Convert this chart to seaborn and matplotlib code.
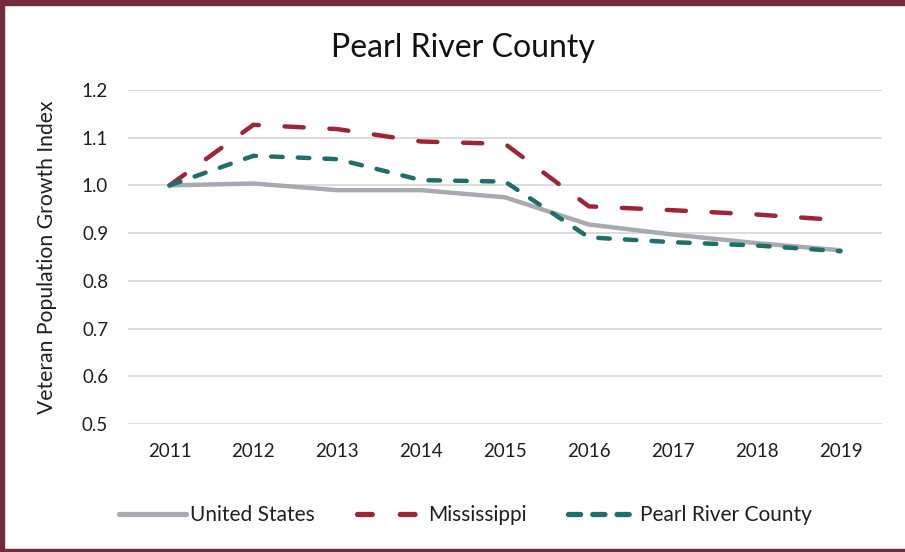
import matplotlib
matplotlib.use("Agg")
import matplotlib.pyplot as plt
import pandas as pd
import seaborn as sns
from matplotlib.patches import Rectangle

years = [2011, 2012, 2013, 2014, 2015, 2016, 2017, 2018, 2019]
united_states = [1.000, 1.004, 0.990, 0.990, 0.975, 0.918, 0.897, 0.879, 0.864]
mississippi = [1.000, 1.127, 1.118, 1.092, 1.087, 0.956, 0.948, 0.939, 0.927]
pearl_river = [1.000, 1.062, 1.055, 1.011, 1.008, 0.891, 0.881, 0.874, 0.862]
series_names = ["United States", "Mississippi", "Pearl River County"]
y_ticks = [0.5, 0.6, 0.7, 0.8, 0.9, 1.0, 1.1, 1.2]

df = pd.DataFrame({
    "year": years * 3,
    "value": united_states + mississippi + pearl_river,
    "series": [s for s in series_names for _ in years],
})

sns.set_theme(style="white")
plt.rcParams["font.family"] = ["Lato", "DejaVu Sans"]

palette = {"United States": "#A7AAB1", "Mississippi": "#9C2638",
           "Pearl River County": "#1E6E6A"}
dashes = {"United States": "", "Mississippi": (4.3, 5.8),
          "Pearl River County": (2.6, 3.4)}
legend_dashes = {"Mississippi": (2.8, 5.3), "Pearl River County": (2.3, 2.3)}

fig = plt.figure(figsize=(9.05, 5.52), dpi=100)
ax = fig.add_axes([0.141, 0.232, 0.834, 0.605])
sns.lineplot(data=df, x="year", y="value", hue="series", style="series",
             palette=palette, dashes=dashes, linewidth=3.2, ax=ax,
             hue_order=series_names, style_order=series_names)
for ln in ax.get_lines():
    ln.set_dash_capstyle("round")
    ln.set_solid_capstyle("round")

ax.set_xlim(2010.5, 2019.5)
ax.set_ylim(0.5, 1.2)
ax.set_xticks(years)
ax.set_yticks(y_ticks)
ax.set_yticklabels([f"{v:.1f}" for v in y_ticks])
ax.grid(axis="y", color="#D9D9D9", linewidth=1.3)
ax.set_axisbelow(True)
for sp in ax.spines.values():
    sp.set_visible(False)
ax.tick_params(axis="both", length=0, labelsize=13.5, colors="#1f1f1f")
ax.tick_params(axis="x", pad=14)
ax.tick_params(axis="y", pad=14)
ax.set_xlabel("")
ax.set_ylabel("Veteran Population Growth Index", fontsize=15.2, color="#1f1f1f",
              labelpad=18)
fig.text(0.511, 0.913, "Pearl River County", ha="center", va="center",
         fontsize=23, color="#111111")

# Excel-style legend: three entries with uneven spacing
handles, labels = ax.get_legend_handles_labels()
ax.legend_.remove()
legend_x = [0.131, 0.394, 0.628]
for h, lab, lx in zip(handles, labels, legend_x):
    leg = fig.legend([h], [lab], loc="center left", bbox_to_anchor=(lx, 0.067),
                     frameon=False, fontsize=15, handlelength=3.25,
                     handletextpad=0.2, borderpad=0, borderaxespad=0)
    for t in leg.get_texts():
        t.set_color("#1f1f1f")
    for ln in leg.get_lines():
        ln.set_linewidth(3.8)
        ln.set_dash_capstyle("round")
        ln.set_solid_capstyle("round")
        if lab in legend_dashes:
            ln.set_dashes(legend_dashes[lab])

border = "#722B3C"
fig.patches.append(Rectangle((0, 0.991), 1, 0.009, transform=fig.transFigure,
                             color=border, zorder=10))
fig.patches.append(Rectangle((0, 0.007), 0.0045, 0.99, transform=fig.transFigure,
                             color=border, zorder=10))
fig.patches.append(Rectangle((0, 0), 1, 0.006, transform=fig.transFigure,
                             color=border, zorder=10))

fig.savefig("out.png", dpi=100)
